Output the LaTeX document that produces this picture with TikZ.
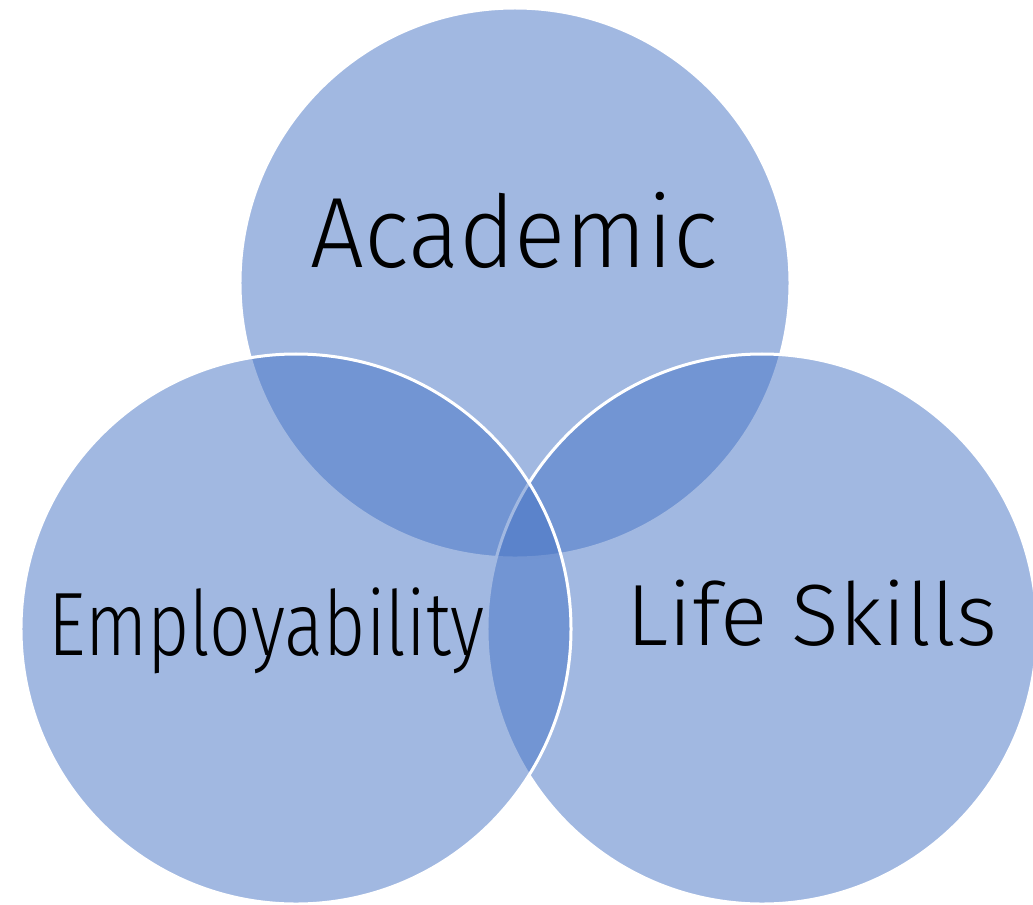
\documentclass[tikz,border=0pt]{standalone}
\usepackage{fontspec}
\setmainfont{Fira Sans}[UprightFont=* Light]
\usepackage{tikz}
\definecolor{setblue}{HTML}{4472C4}
\tikzstyle{set}=[circle, draw=white, line width=1.5bp, fill=setblue, fill opacity=0.5, draw opacity=1, inner sep=0pt, outer sep=0pt, minimum size=275bp]
\tikzstyle{setlabel}=[anchor=base, inner sep=0pt, text=black]

\begin{document}
\begin{tikzpicture}[x=0.5bp, y=-0.5bp]
        \useasboundingbox (0,0) rectangle (1033,905);
        \node[set] (Acad) at (515, 283) {};
        \node[set] (Life) at (762, 629) {};
        \node[set] (Emp) at (296, 629) {};
        \node[setlabel, font=\fontsize{50bp}{60bp}\selectfont] (AcadText) at (514, 267) {\scalebox{0.953}[1]{Academic}};
        \node[setlabel, font=\fontsize{45bp}{54bp}\selectfont] (EmpText) at (266.5, 655) {\scalebox{0.81}[1]{Employability}};
        \node[setlabel, font=\fontsize{43.5bp}{52bp}\selectfont] (LifeText) at (812, 645) {\scalebox{1.014}[1]{Life Skills}};
    \end{tikzpicture}
\end{document}
